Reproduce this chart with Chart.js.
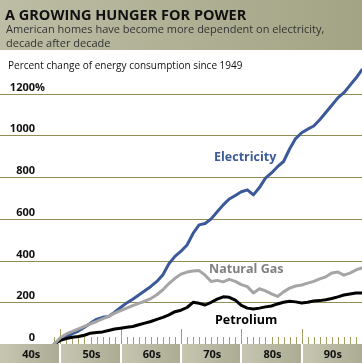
<!DOCTYPE html>
<html>
<head>
<meta charset="utf-8">
<script src="https://cdn.jsdelivr.net/npm/chart.js@4/dist/chart.umd.min.js"></script>
<style>
  html, body { margin: 0; padding: 0; background: #fff; }
  #wrap { position: relative; width: 362px; height: 363px; overflow: hidden; font-family: "Open Sans", sans-serif; }
  #head { position: absolute; left: 0; top: 0; width: 362px; height: 50px;
          background: linear-gradient(90deg, #bdbda5, #a3a385); }
  #head h1 { margin: 0; position: absolute; left: 5px; top: 5px; font-size: 14.5px; font-weight: 700; color: #111; letter-spacing: 0; }
  #head p { margin: 0; position: absolute; left: 6px; top: 22px; font-size: 11px; line-height: 14px; color: #333; }
  #sub { position: absolute; left: 8px; top: 58px; font-size: 10px; color: #111; }
  canvas { position: absolute; left: 0; top: 0; }
</style>
</head>
<body>
<div id="wrap">
  <canvas id="c" width="362" height="363"></canvas>
  <div id="head">
    <h1>A GROWING HUNGER FOR POWER</h1>
    <p>American homes have become more dependent on electricity,<br>decade after decade</p>
  </div>
  <div id="sub">Percent change of energy consumption since 1949</div>
</div>
<script>
// values, percent change since 1949
const years = [1949, 1950, 1951, 1952, 1953, 1954, 1955, 1956, 1957, 1958, 1959,
  1960, 1961, 1962, 1963, 1964, 1965, 1966, 1967, 1968, 1969,
  1970, 1971, 1972, 1973, 1974, 1975, 1976, 1977, 1978, 1979,
  1980, 1981, 1982, 1983, 1984, 1985, 1986, 1987, 1988, 1989,
  1990, 1991, 1992, 1993, 1994, 1995, 1996, 1997, 1998, 1999, 2000];
const electricity = [0, 20, 35, 50, 62, 80, 100, 118, 128, 132, 152,
  175, 197, 215, 235, 255, 276, 300, 332, 385, 420,
  445, 475, 530, 571, 578, 600, 634, 667, 695, 712,
  730, 739, 715, 750, 795, 820, 850, 875, 935, 985,
  1013, 1030, 1045, 1075, 1110, 1145, 1180, 1205, 1240, 1275, 1315];
const naturalGas = [0, 30, 48, 60, 73, 85, 97, 108, 120, 132, 148,
  160, 172, 184, 195, 205, 218, 236, 260, 290, 315,
  335, 345, 350, 352, 330, 300, 305, 298, 310, 300,
  285, 275, 245, 265, 255, 240, 228, 250, 268, 278,
  283, 292, 300, 312, 322, 340, 345, 330, 340, 355, 365];
const petroleum = [0, 18, 26, 32, 36, 42, 52, 55, 58, 65, 72,
  76, 80, 84, 92, 100, 108, 118, 128, 140, 155,
  162, 175, 200, 195, 187, 200, 215, 226, 224, 210,
  185, 172, 168, 172, 178, 182, 192, 200, 205, 202,
  197, 200, 206, 208, 212, 218, 226, 235, 240, 245, 245];
const yTicks = [0, 200, 400, 600, 800, 1000, 1200];
const decades = [1940, 1950, 1960, 1970, 1980, 1990, 2000];
const decadeLabels = ['40s', '50s', '60s', '70s', '80s', '90s'];

const pts = arr => arr.map((v, i) => ({ x: years[i], y: v }));

const decor = {
  id: 'decor',
  beforeDatasetsDraw(chart) {
    const { ctx, scales: { x, y } } = chart;
    ctx.save();
    // gridlines
    ctx.strokeStyle = '#8f8f55';
    ctx.lineWidth = 1;
    yTicks.forEach(t => {
      if (t === 0) return;
      const py = Math.round(y.getPixelForValue(t)) + 0.5;
      ctx.beginPath();
      ctx.moveTo(0, py);
      ctx.lineTo(chart.width, py);
      ctx.stroke();
    });
    // year ticks
    const base = y.getPixelForValue(0);
    ctx.strokeStyle = '#a0a064';
    years.forEach(yr => {
      if (yr >= 2000) return;
      const px = Math.round(x.getPixelForValue(yr)) + 0.5;
      const tall = yr % 10 === 0;
      ctx.beginPath();
      ctx.moveTo(px, base - (tall ? 15 : 7));
      ctx.lineTo(px, base);
      ctx.stroke();
    });
    // y labels
    ctx.fillStyle = '#111';
    ctx.font = 'bold 11px "Open Sans"';
    ctx.textBaseline = 'alphabetic';
    yTicks.forEach(t => {
      const py = y.getPixelForValue(t) - 3;
      ctx.textAlign = 'right';
      ctx.fillText(String(t), 35, py);
      if (t === 1200) {
        ctx.textAlign = 'left';
        ctx.fillText('%', 35, py);
      }
    });
    ctx.restore();
  },
  afterDatasetsDraw(chart) {
    const { ctx, scales: { x, y } } = chart;
    ctx.save();
    // decade band
    const top = Math.round(y.getPixelForValue(0));
    for (let i = 0; i < decadeLabels.length; i++) {
      const x0 = x.getPixelForValue(decades[i]);
      const x1 = x.getPixelForValue(decades[i + 1]);
      const g = ctx.createLinearGradient(x0, 0, x1, 0);
      g.addColorStop(0, '#c6c6b2');
      g.addColorStop(1, '#acac94');
      ctx.fillStyle = g;
      ctx.fillRect(x0, top, x1 - x0, chart.height - top);
      ctx.fillStyle = '#111';
      ctx.font = 'bold 11px "Open Sans"';
      ctx.textAlign = 'center';
      ctx.textBaseline = 'middle';
      ctx.fillText(decadeLabels[i], (x0 + x1) / 2 + 1, top + 11);
    }
    ctx.fillStyle = '#fff';
    decades.slice(1, -1).forEach(d => {
      const px = Math.round(x.getPixelForValue(d));
      ctx.fillRect(px - 1, top, 2, chart.height - top);
    });
    // series labels
    ctx.textAlign = 'left';
    ctx.textBaseline = 'middle';
    ctx.font = 'bold 12.5px "Open Sans"';
    ctx.fillStyle = '#3c5a98';
    ctx.fillText('Electricity', 214, 157);
    ctx.fillStyle = '#808080';
    ctx.fillText('Natural Gas', 209, 269);
    ctx.fillStyle = '#000';
    ctx.fillText('Petrolium', 215, 320);
    ctx.restore();
  }
};

new Chart(document.getElementById('c'), {
  type: 'line',
  data: {
    datasets: [
      { label: 'Natural Gas', data: pts(naturalGas), borderColor: '#a5a5a5', borderWidth: 3 },
      { label: 'Petroleum', data: pts(petroleum), borderColor: '#000000', borderWidth: 3 },
      { label: 'Electricity', data: pts(electricity), borderColor: '#3b5898', borderWidth: 3 }
    ]
  },
  options: {
    responsive: false,
    animation: false,
    layout: { padding: { top: 52, bottom: 19, left: 0, right: 0 } },
    elements: { point: { radius: 0 }, line: { tension: 0, borderJoinStyle: 'round', borderCapStyle: 'round' } },
    scales: {
      x: { type: 'linear', display: false, min: 1940, max: 2000 },
      y: { display: false, min: 0, max: 1400 }
    },
    plugins: { legend: { display: false }, tooltip: { enabled: false } }
  },
  plugins: [decor]
});
</script>
</body>
</html>
